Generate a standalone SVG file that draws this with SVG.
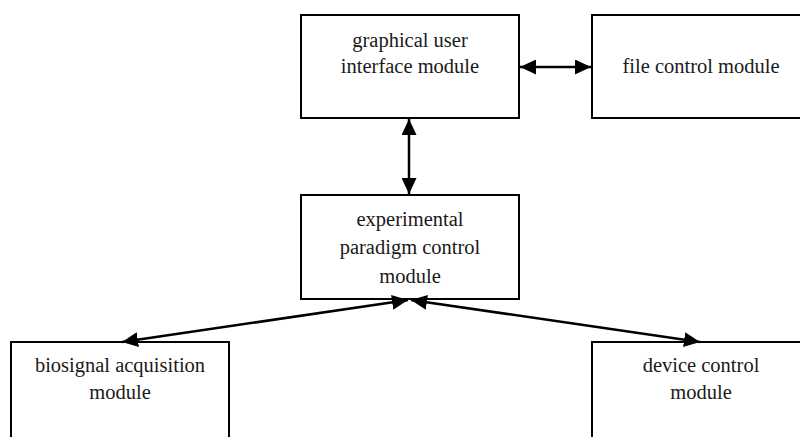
<svg xmlns="http://www.w3.org/2000/svg" width="800" height="437" viewBox="0 0 800 437">
<style>
.box{fill:#fff;stroke:#000;stroke-width:2}
.t{font-family:"Liberation Serif","Times New Roman",serif;font-size:20.5px;fill:#1a1a1a;text-anchor:middle}
.c{stroke:#000;stroke-width:2.5;fill:none;marker-start:url(#ah);marker-end:url(#ah)}
</style>
<defs>
<marker id="ah" markerUnits="userSpaceOnUse" markerWidth="17" markerHeight="15" refX="16" refY="7.5" orient="auto-start-reverse" viewBox="0 0 17 15">
<path d="M0,0 L16,7.5 L0,15 Z" fill="#000"/>
</marker>
</defs>
<rect width="800" height="437" fill="#fff"/>
<g id="gui"><rect class="box" x="301" y="15" width="218" height="103"/>
<text class="t" x="410" y="47">graphical user</text>
<text class="t" x="410" y="73">interface module</text></g>
<g id="file"><rect class="box" x="592" y="15" width="218" height="103"/>
<text class="t" x="701" y="73">file control module</text></g>
<g id="paradigm"><rect class="box" x="301" y="195" width="218" height="104"/>
<text class="t" x="410" y="226">experimental</text>
<text class="t" x="410" y="254">paradigm control</text>
<text class="t" x="410" y="283">module</text></g>
<g id="biosignal"><rect class="box" x="11" y="342" width="218" height="110"/>
<text class="t" x="120" y="372">biosignal acquisition</text>
<text class="t" x="120" y="399">module</text></g>
<g id="device"><rect class="box" x="592" y="342" width="218" height="110"/>
<text class="t" x="701" y="372">device control</text>
<text class="t" x="701" y="399">module</text></g>
<g id="connectors">
<path class="c" d="M520,67 L591,67"/>
<path class="c" d="M409,119 L409,194"/>
<path class="c" d="M408,300 L122,342"/>
<path class="c" d="M411,300 L700,342"/>
</g>
</svg>
